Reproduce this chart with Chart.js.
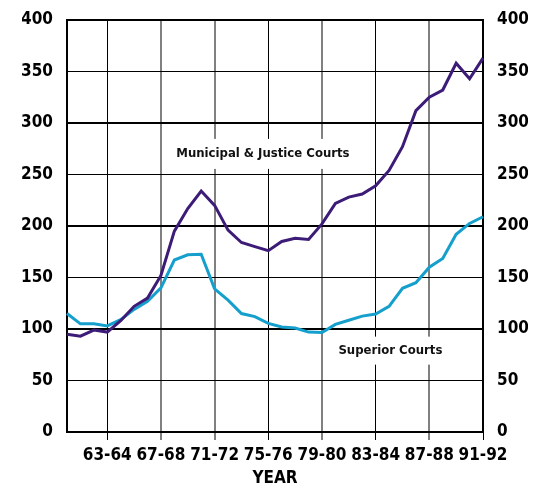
<!DOCTYPE html>
<html>
<head>
<meta charset="utf-8">
<script src="https://cdn.jsdelivr.net/npm/chart.js@4.4.1/dist/chart.umd.min.js"></script>
<style>
  html, body { margin: 0; padding: 0; background: #fff; }
  #wrap { width: 543px; height: 489px; }
</style>
</head>
<body>
<div id="wrap"><canvas id="courtChart" width="543" height="489"></canvas></div>
<script>
// fiscal years, one point per year
const years = ['60-61', '61-62', '62-63', '63-64', '64-65', '65-66', '66-67', '67-68',
    '68-69', '69-70', '70-71', '71-72', '72-73', '73-74', '74-75', '75-76',
    '76-77', '77-78', '78-79', '79-80', '80-81', '81-82', '82-83', '83-84',
    '84-85', '85-86', '86-87', '87-88', '88-89', '89-90', '90-91', '91-92'];

const municipal = [95, 93, 99, 97, 108, 122, 130, 152, 195, 217, 234, 220, 196, 184, 180, 176,
    185, 188, 187, 202, 222, 228, 231, 239, 254, 277, 312, 325, 332, 358, 343, 363];

const superior = [115, 105, 105, 103, 109, 119, 127, 140, 167, 172, 172.5, 139, 128, 115, 112, 105.5,
    102, 101, 97, 96.5, 104.5, 108.5, 112.5, 114.5, 122, 139.5, 145, 160, 168.5, 192, 202.5, 209];

const shownYears = ['63-64', '67-68', '71-72', '75-76', '79-80', '83-84', '87-88', '91-92'];
const grayYears = ['67-68', '71-72', '79-80', '87-88'];
const yTicks = [0, 50, 100, 150, 200, 250, 300, 350, 400];

const FONT = "'DejaVu Sans', sans-serif";
const WEIGHT = 'bold condensed'; // lands in the font string as "bold condensed"

// labels in white boxes, placed in data units
const notes = [
    { text: 'Municipal & Justice Courts', x: 14.6, y: 270, padX: 10, padY: 15 },
    { text: 'Superior Courts', x: 24.1, y: 79, padX: 10, padY: 14 }
];

const notePlugin = {
    id: 'notes',
    beforeDatasetsDraw(chart) {
        const { ctx, scales } = chart;
        ctx.save();
        ctx.font = WEIGHT + ' 13px ' + FONT;
        ctx.textAlign = 'center';
        ctx.textBaseline = 'middle';
        notes.forEach(n => {
            const cx = scales.x.getPixelForValue(n.x);
            const cy = scales.y.getPixelForValue(n.y);
            const w = ctx.measureText(n.text).width;
            ctx.fillStyle = '#fff';
            ctx.fillRect(cx - w / 2 - n.padX, cy - n.padY, w + 2 * n.padX, 2 * n.padY);
            ctx.fillStyle = '#111';
            ctx.fillText(n.text, cx, cy);
        });
        ctx.restore();
    }
};

function gridColor(ctx) {
    const y = years[ctx.index];
    if (!shownYears.includes(y) || ctx.index === 0) return 'rgba(0,0,0,0)';
    return grayYears.includes(y) ? '#808080' : '#000';
}

const yAxisBase = {
    type: 'linear',
    min: 0,
    max: 400,
    afterBuildTicks: axis => { axis.ticks = yTicks.map(v => ({ value: v })); },
    afterFit: axis => {
        axis.width = 45;
        axis.paddingTop = 0; // let the layout padding set the top edge
    },
    border: { display: true, color: '#000', width: 2 },
    ticks: {
        color: '#000',
        padding: 14,
        font: { family: FONT, size: 17, weight: WEIGHT }
    }
};

new Chart(document.getElementById('courtChart'), {
    type: 'line',
    data: {
        labels: years,
        datasets: [{
            label: 'Municipal & Justice Courts',
            data: municipal,
            borderColor: '#3d1c78',
            borderWidth: 3,
            pointRadius: 0,
            tension: 0
        }, {
            label: 'Superior Courts',
            data: superior,
            borderColor: '#159fcc',
            borderWidth: 3,
            pointRadius: 0,
            tension: 0
        }]
    },
    options: {
        responsive: false,
        animation: false,
        layout: { padding: { left: 22, right: 15, top: 20, bottom: 0 } },
        plugins: {
            legend: { display: false },
            tooltip: { enabled: false }
        },
        scales: {
            x: {
                offset: false,
                afterFit: axis => { axis.height = 57; },
                border: { display: true, color: '#000', width: 2 },
                grid: {
                    color: gridColor,
                    tickColor: gridColor,
                    lineWidth: ctx => grayYears.includes(years[ctx.index]) ? 2 : 1,
                    tickLength: 8
                },
                ticks: {
                    autoSkip: false,
                    maxRotation: 0,
                    color: '#000',
                    padding: 5,
                    font: { family: FONT, size: 17, weight: WEIGHT },
                    callback: (v, i) => shownYears.includes(years[i]) ? years[i] : ''
                },
                title: {
                    display: true,
                    text: 'YEAR',
                    color: '#000',
                    padding: { top: 0, bottom: 0 },
                    font: { family: FONT, size: 17, weight: WEIGHT }
                }
            },
            y: {
                ...yAxisBase,
                position: 'left',
                grid: {
                    color: '#000',
                    lineWidth: ctx => ctx.tick && ctx.tick.value % 100 === 0 ? 2 : 1,
                    drawTicks: false
                }
            },
            y2: {
                ...yAxisBase,
                position: 'right',
                grid: { drawOnChartArea: false, drawTicks: false }
            }
        }
    },
    plugins: [notePlugin]
});
</script>
</body>
</html>
